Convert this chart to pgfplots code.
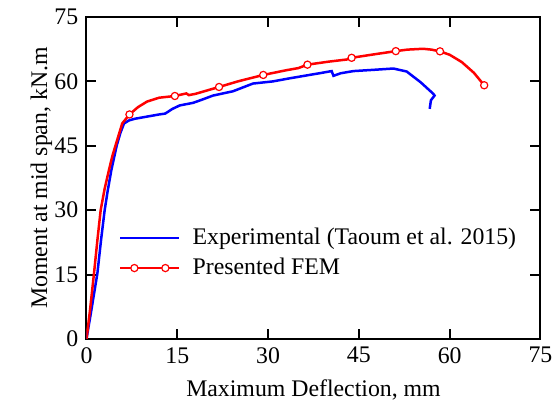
\documentclass[border=0pt]{standalone}
\usepackage{fontspec}
\setmainfont{Liberation Serif}
\newfontfamily\tickfont{Liberation Serif}
\usepackage{pgfplots}
\pgfplotsset{compat=1.18}

\begin{document}
\fontsize{11.9}{13.5}\selectfont
\begin{tikzpicture}
\begin{axis}[
    name=ax,
    scale only axis,
    width=227pt, height=161pt,
    xmin=0, xmax=75, ymin=0, ymax=75,
    xtick={0,15,...,75}, ytick={0,15,...,75},
    xticklabels={0,15,30,45,60,75},
    yticklabels={0,15,30,45,60,75},
    tick label style={font=\tickfont},
    axis line style={line width=1pt},
    every tick/.style={black, line width=1pt},
    major tick length=5pt,
    tick align=inside,
    xlabel={Maximum Deflection, mm},
    ylabel={Moment at mid span, kN.m},
    ylabel style={yshift=-7pt},
    legend cell align=left,
    legend style={draw=none, fill=none, at={(0.071,0.267)}, anchor=west,
        inner xsep=0pt, inner ysep=0pt, row sep=1pt, column sep=4pt},
    legend image code/.code={
        \draw[#1, mark indices={2,4}] plot coordinates {(0pt,0pt) (7pt,0pt) (14.75pt,0pt) (22.5pt,0pt) (29.5pt,0pt)};
    },
]

% Experimental
\addplot[color=blue, line width=1.25pt] coordinates {
    (0,0) (0.8,6.7) (1.8,15.3) (2.4,23) (3.0,30) (3.5,34.5) (4.1,39.3)
    (5.0,45.1) (5.6,48) (6.2,50.2) (7.0,50.9) (8,51.3) (10,51.8) (12,52.3)
    (13,52.5) (14.2,53.6) (15.4,54.4) (17.6,55.0) (19,55.7) (20.9,56.7)
    (24.2,57.7) (27.5,59.5) (30.8,60.0) (33.5,60.7) (36.4,61.4) (38.5,61.9)
    (40.5,62.4) (40.8,61.3) (42,61.9) (44.1,62.4) (47.5,62.7) (50.7,63.0)
    (52.9,62.3) (55.2,59.8) (57.3,57.1) (57.5,56.7) (56.9,55.6) (56.7,53.6)
};
\addlegendentry{Experimental (Taoum et al. 2015)}

% FEM
\addplot[color=red, line width=1.25pt, mark=*,
    mark options={fill=white, draw=red, line width=0.6pt}, mark size=1.8pt,
    mark indices={11,15,19,21,24,27,29,33,37}] coordinates {
    (0,0) (0.58,6.7) (1.24,15.3) (1.8,23) (2.34,30) (3.0,35) (3.7,39.3)
    (4.25,42.5) (4.8,45.1) (5.9,50.2) (7.1,52.3) (8.5,54.0) (10,55.3) (12,56.2)
    (14.6,56.6) (16.5,57.2) (16.9,56.8) (18,57.1) (21.9,58.7) (25,60.0)
    (29.2,61.5) (33,62.6) (35,63.1) (36.5,63.9) (40,64.6) (43.0,65.1)
    (43.8,65.5) (47.5,66.3) (51.1,67.05) (53,67.4) (55.6,67.6) (57,67.4)
    (58.4,67.0) (60,66.2) (62,64.5) (64,62.0) (65.7,59.1)
};
\addlegendentry{Presented FEM}

\end{axis}
\pgfresetboundingbox
\path ([shift={(-43.25pt,-33pt)}]ax.south west) rectangle ([shift={(236.25pt,169.5pt)}]ax.south west);
\end{tikzpicture}
\end{document}
